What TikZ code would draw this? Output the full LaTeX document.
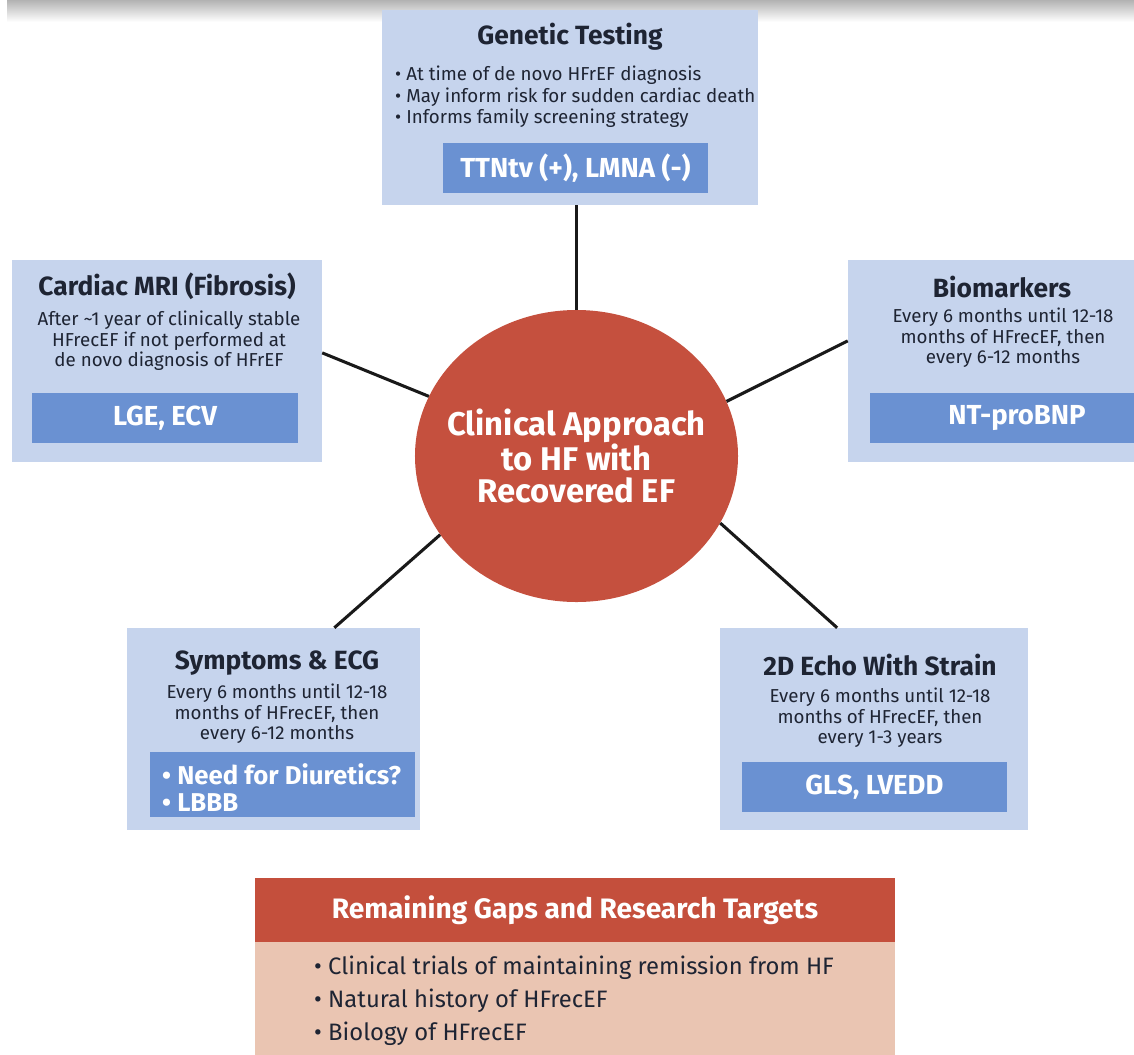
\documentclass[tikz,border=0pt]{standalone}
\usepackage{fontspec}
\setmainfont{Fira Sans}
\usetikzlibrary{positioning, fit, calc, shapes.geometric}

\definecolor{panelblue}{HTML}{C6D4ED}
\definecolor{tagblue}{HTML}{6A91D2}
\definecolor{hubred}{HTML}{C5503E}
\definecolor{headred}{HTML}{C44F3C}
\definecolor{peach}{HTML}{EAC5B2}
\definecolor{inkdark}{HTML}{1E2433}

\begin{document}
\begin{tikzpicture}[x=0.03cm, y=-0.03cm,
    panel/.style={fill=panelblue, inner sep=0pt},
    tag/.style={fill=tagblue, inner sep=0pt},
    head/.style={text=inkdark, inner sep=0pt, font=\fontsize{22.5}{26}\selectfont\bfseries},
    body/.style={text=inkdark, inner sep=0pt, align=center, font=\fontsize{16}{17.5}\selectfont},
    tagtext/.style={text=white, inner sep=0pt, font=\fontsize{23.5}{27}\selectfont\bfseries},
    spoke/.style={line width=2.6pt, black!90}]

\useasboundingbox (0,0) rectangle (1134,1055);
\shade[top color=black!30, bottom color=white] (7,0) rectangle (1134,22);

% centre
\node[ellipse, fill=hubred, inner sep=0pt, minimum width=9.69cm, minimum height=8.76cm] (hub) at (576.5,456) {};
\node[text=white, inner sep=0pt, align=center, font=\fontsize{28}{26.8}\selectfont\bfseries] (hubtext) at (hub.center)
      {Clinical Approach\\to HF with\\Recovered EF};

% genetic testing
\node[panel, fit={(382,10) (758,205)}] (gen) {};
\node[head] (gentitle) at ($(gen.north)+(0,27)$) {Genetic Testing};
\node[body, align=left, anchor=west, font=\fontsize{16}{18.3}\selectfont] (genlist) at (395,97)
      {• At time of de novo HFrEF diagnosis\\• May inform risk for sudden cardiac death\\• Informs family screening strategy};
\node[tag, fit={(443,143) (708,193)}] (gentag) {};
\node[tagtext] at (gentag.center) {TTNtv (+), LMNA (-)};

% cardiac mri
\node[panel, fit={(12,260) (322,462)}] (mri) {};
\node[head] (mrititle) at ($(mri.north)+(0,27)$) {Cardiac MRI (Fibrosis)};
\node[body] (mritext) at (169,341) {After \textasciitilde1 year of clinically stable\\HFrecEF if not performed at\\de novo diagnosis of HFrEF};
\node[tag, fit={(32,393) (298,443)}] (mritag) {};
\node[tagtext] at (mritag.center) {LGE, ECV};

% biomarkers
\node[panel, fit={(848,260) (1134,462)}] (bio) {};
\node[head] (biotitle) at (1002,287) {Biomarkers};
\node[body] (biotext) at (1003,338) {Every 6 months until 12-18\\months of HFrecEF, then\\every 6-12 months};
\node[tag, fit={(870,393) (1134,443)}] (biotag) {};
\node[tagtext] at (1017,418) {NT-proBNP};

% symptoms
\node[panel, fit={(127,628) (420,830)}] (sym) {};
\node[head] (symtitle) at (277,663) {Symptoms \& ECG};
\node[body] (symtext) at (277,714) {Every 6 months until 12-18\\months of HFrecEF, then\\every 6-12 months};
\node[tag, fit={(150,752) (415,817)}] (symtag) {};
\node[tagtext, align=left, anchor=west, font=\fontsize{22}{23}\selectfont\bfseries] at (162,788)
      {• Need for Diuretics?\\• LBBB};

% echo
\node[panel, fit={(720,628) (1028,830)}] (echo) {};
\node[head] (echotitle) at (880,665) {2D Echo With Strain};
\node[body] (echotext) at (880,718) {Every 6 months until 12-18\\months of HFrecEF, then\\every 1-3 years};
\node[tag, fit={(742,762) (1007,812)}] (echotag) {};
\node[tagtext] at (echotag.center) {GLS, LVEDD};

% gaps
\node[fill=headred, inner sep=0pt, fit={(255,878) (895,942)}] (gaphead) {};
\node[text=white, inner sep=0pt, font=\fontsize{24}{28}\selectfont\bfseries] at (575,910)
      {Remaining Gaps and Research Targets};
\node[fill=peach, inner sep=0pt, fit={(255,942) (895,1055)}] (gapbody) {};
\node[text=inkdark, inner sep=0pt, align=left, anchor=west, font=\fontsize{20.3}{28}\selectfont] (gaplist) at (314,1001)
      {• Clinical trials of maintaining remission from HF\\• Natural history of HFrecEF\\• Biology of HFrecEF};

% spokes
\draw[spoke] (hub.north) -- (hub.north |- gen.south);
\draw[spoke] (hub.158.5) -- (mri.3);
\draw[spoke] (hub.20.3) -- (bio.172);
\draw[spoke] (hub.210.7) -- (sym.59);
\draw[spoke] (hub.-25.7) -- (echo.110);
\end{tikzpicture}
\end{document}
